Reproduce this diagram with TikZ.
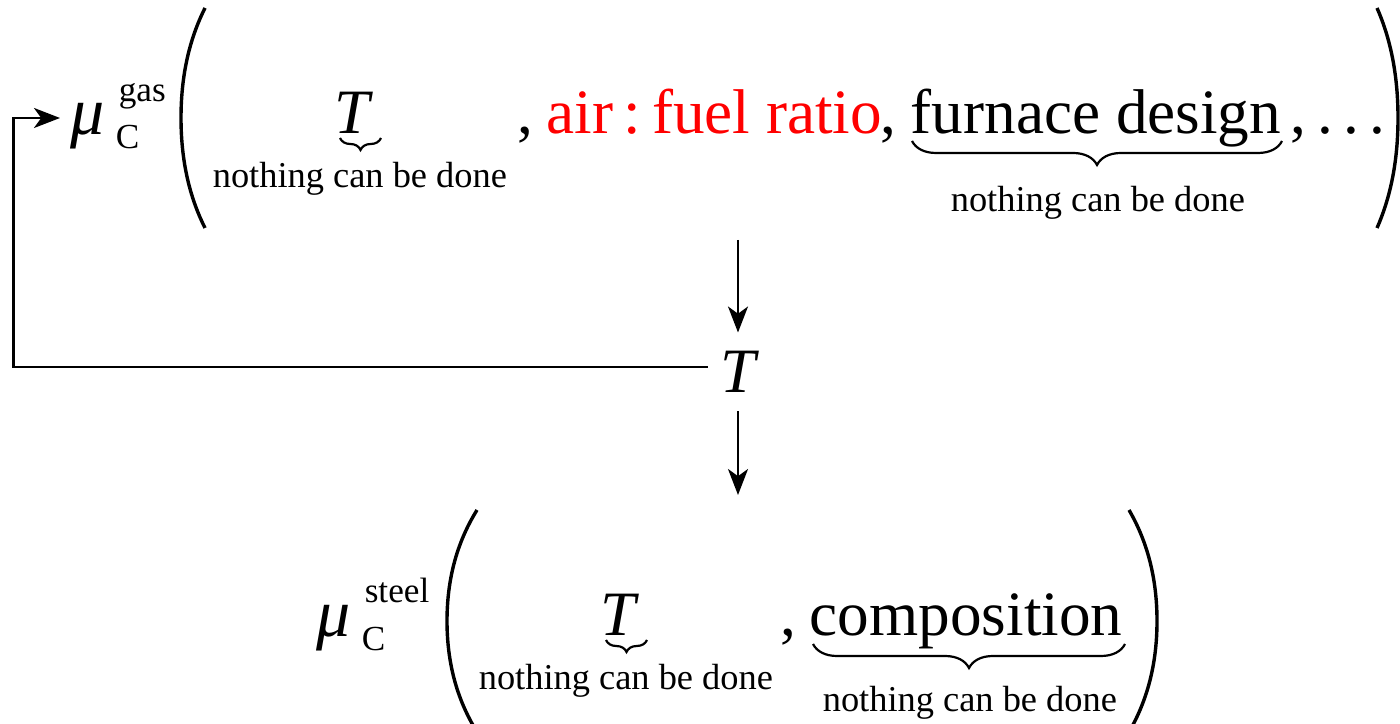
\documentclass[tikz,border=0pt]{standalone}
\usepackage{fontspec}
\setmainfont{Liberation Serif}
\usetikzlibrary{arrows.meta,decorations.pathreplacing}
\tikzset{
  big/.style={inner sep=0pt, anchor=base west, font=\fontsize{15.8}{18}\selectfont},
  sym/.style={inner sep=0pt, anchor=base west, font=\fontsize{17}{20}\selectfont\itshape},
  note/.style={inner sep=0pt, anchor=base west, font=\fontsize{9.1}{11}\selectfont},
  idx/.style={inner sep=0pt, anchor=base west, font=\fontsize{8.8}{10}\selectfont},
  ubrace/.style={decorate, decoration={brace, mirror, amplitude=#1}, line width=0.55pt},
  arr/.style={-{Stealth[length=6.5pt, width=5pt, inset=1.8pt]}, line width=0.55pt},
}
\newcommand{\drawparen}[4]{%
  \draw[line width=0.85pt] (#1,#3) .. controls ({0.45*#1+0.55*#2},{0.88*#3+0.12*#4}) and (#2,{0.72*#3+0.28*#4}) .. (#2,{0.5*#3+0.5*#4})
    .. controls (#2,{0.28*#3+0.72*#4}) and ({0.45*#1+0.55*#2},{0.12*#3+0.88*#4}) .. (#1,#4);}
\begin{document}
\begin{tikzpicture}[x=0.25pt, y=-0.25pt]
        \useasboundingbox (0,0) rectangle (1400,724);
        \clip (0,0) rectangle (1400,724);
        \node[sym] (muG) at (70,135) {μ};
        \node[idx] (gasSup) at (118,102) {gas};
        \node[idx] (gasSub) at (115,149) {C};
        \drawparen{205}{181}{8}{228}
        \node[big] (tG) at (334,134) {\itshape T};
        \draw[ubrace=3pt] (340,138) -- (381,138);
        \node[note] (tGnote) at (212,188) {nothing can be done};
        \node[big] (sepA) at (517,134) {,};
        \node[big, text=red] (air) at (546,134) {air\,:\,fuel ratio};
        \node[big] (sepB) at (880,134) {,};
        \node[big] (furnace) at (910,134) {furnace design};
        \draw[ubrace=6pt] (912,141) -- (1282,141);
        \node[note] (furnaceNote) at (950,212) {nothing can be done};
        \node[big] (dots) at (1290,134) {,\,.\,.\,.};
        \drawparen{1377}{1398}{8}{228}
        \node[big, anchor=center, inner xsep=3pt, inner ysep=4.5pt] (Tmid) at (738,372) {\itshape T};
        \coordinate (gasOut) at (738,240);
        \coordinate (steelIn) at (738,495);
        \coordinate (fbIn) at (60,118);
        \draw[arr] (gasOut) -- (Tmid.north);
        \draw[arr] (Tmid.south) -- (steelIn);
        \draw[arr, line width=0.65pt] ([yshift=1.2pt]Tmid.west) -- ++(-694,0) |- (fbIn);
        \node[sym] (muS) at (316,637) {μ};
        \node[idx] (steelSup) at (364,603) {steel};
        \node[idx] (steelSub) at (361,651) {C};
        \drawparen{477}{447}{510}{732}
        \node[big] (tS) at (600,636) {\itshape T};
        \draw[ubrace=3pt] (606,640) -- (647,640);
        \node[note] (tSnote) at (478,690) {nothing can be done};
        \node[big] (sepC) at (780,636) {,};
        \node[big] (comp) at (809,636) {composition};
        \draw[ubrace=6pt] (813,644) -- (1125,644);
        \node[note] (compNote) at (822,712) {nothing can be done};
        \drawparen{1129}{1157}{510}{732}
\end{tikzpicture}
\end{document}
